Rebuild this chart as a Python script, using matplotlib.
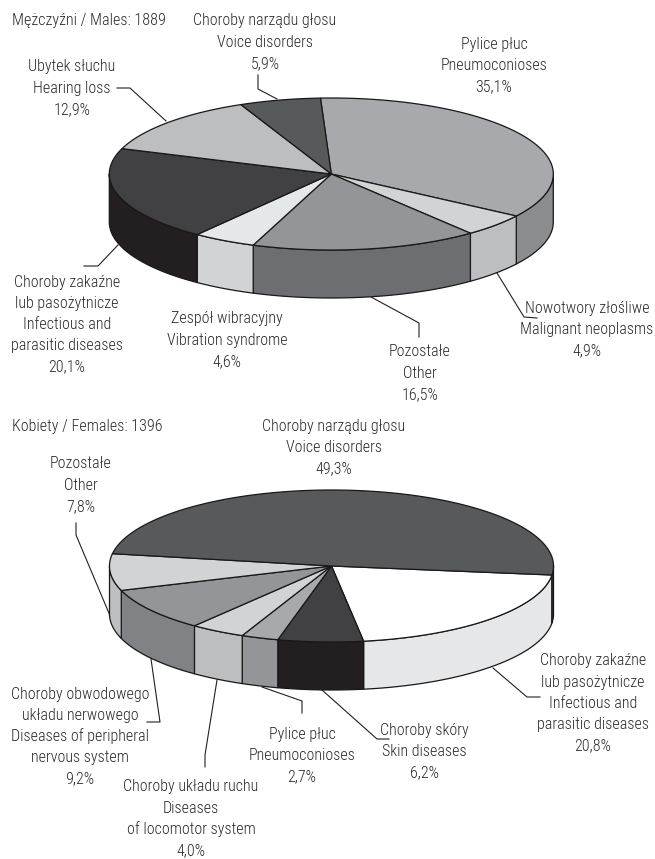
"""Occupational diseases in Poland, two 3D pies"""
import numpy as np
import matplotlib
matplotlib.use("Agg")
import matplotlib.pyplot as plt

plt.rcParams['font.family'] = ['Roboto Condensed', 'Liberation Sans', 'DejaVu Sans']
plt.rcParams['font.weight'] = 300

# slices go clockwise from the start angle
male_title = 'Mężczyźni / Males: 1889'
male_names = [['Pylice płuc', 'Pneumoconioses'],
              ['Nowotwory złośliwe', 'Malignant neoplasms'],
              ['Pozostałe', 'Other'],
              ['Zespół wibracyjny', 'Vibration syndrome'],
              ['Choroby zakaźne', 'lub pasożytnicze', 'Infectious and', 'parasitic diseases'],
              ['Ubytek słuchu', 'Hearing loss'],
              ['Choroby narządu głosu', 'Voice disorders']]
male_values = [35.1, 4.9, 16.5, 4.6, 20.1, 12.9, 5.9]
male_top = ['#a7a9ac', '#d1d3d4', '#939598', '#e6e7e8', '#414042', '#bcbec0', '#58595b']
male_side = ['#8a8c8e', '#bcbec0', '#6d6e71', '#d1d3d4', '#231f20', '#939598', '#414042']

female_title = 'Kobiety / Females: 1396'
female_names = [['Choroby zakaźne', 'lub pasożytnicze', 'Infectious and', 'parasitic diseases'],
                ['Choroby skóry', 'Skin diseases'],
                ['Pylice płuc', 'Pneumoconioses'],
                ['Choroby układu ruchu', 'Diseases', 'of locomotor system'],
                ['Choroby obwodowego', 'układu nerwowego', 'Diseases of peripheral', 'nervous system'],
                ['Pozostałe', 'Other'],
                ['Choroby narządu głosu', 'Voice disorders']]
female_values = [20.8, 6.2, 2.7, 4.0, 9.2, 7.8, 49.3]
female_top = ['#ffffff', '#414042', '#a7a9ac', '#d1d3d4', '#939598', '#d1d3d4', '#58595b']
female_side = ['#e6e7e8', '#231f20', '#939598', '#bcbec0', '#808285', '#bcbec0', '#414042']

# label centre x and first line y, in pixels
male_label_pos = [(494, 44), (587, 308), (420, 352), (227, 319), (67, 282), (72, 67), (265, 21)]
female_label_pos = [(593, 661), (424, 730), (302, 734), (191, 787), (80, 694), (81, 464), (334, 426)]

male_leaders = [[(497, 273), (524, 317), (537, 318)],
                [(371, 297), (419, 323), (419, 337)],
                [(118, 245), (98, 266), (84, 266)],
                [(117, 88), (130, 88), (166, 121)],
                [(258, 75), (258, 89), (277, 99)]]
female_leaders = [[(493, 668), (527, 697), (540, 697)],
                  [(322, 690), (377, 739), (389, 739)],
                  [(262, 687), (302, 701), (302, 713)],
                  [(217, 680), (205, 755), (205, 767)],
                  [(151, 659), (160, 722), (147, 722)],
                  [(76, 523), (76, 535), (111, 618)]]

RX, RY, DEPTH = 222, 76, 48
LINE_H = 21.2
TEXT_COLOR = '#2b2a2b'
FONT_SIZE = 11.5


def arc(cx, cy, t0, t1):
    t = np.radians(np.linspace(t0, t1, max(2, int(abs(t1 - t0)) + 2)))
    return cx + RX * np.cos(t), cy - RY * np.sin(t)


def draw_pie(ax, cx, cy, start, values, top, side):
    angles = start - np.cumsum([0] + values) * 3.6
    for i in range(len(values)):
        t0, t1 = angles[i], angles[i + 1]
        # side wall, only the front half of the rim can be seen
        for shift in (0, -360):
            a, b = min(t0 - shift, 0), max(t1 - shift, -180)
            if a > b:
                x, y = arc(cx, cy, a, b)
                ax.fill(np.r_[x, x[::-1]], np.r_[y, y[::-1] + DEPTH],
                        facecolor=side[i], edgecolor='#1a1718', lw=0.9, joinstyle='round')
    for i in range(len(values)):
        x, y = arc(cx, cy, angles[i], angles[i + 1])
        ax.fill(np.r_[cx, x], np.r_[cy, y], facecolor=top[i], edgecolor='#1a1718',
                lw=0.9, joinstyle='round')


def draw_labels(ax, names, values, positions):
    for name, value, (x, y) in zip(names, values, positions):
        percent = f'{value:.1f}'.replace('.', ',') + '%'
        for n, line in enumerate(name + [percent]):
            ax.text(x, y + n * LINE_H, line, ha='center', va='center',
                    fontsize=FONT_SIZE, color=TEXT_COLOR)


fig = plt.figure(figsize=(6.55, 8.59), dpi=100)
ax = fig.add_axes([0, 0, 1, 1])
ax.set_xlim(0, 655)
ax.set_ylim(859, 0)
ax.axis('off')

for leaders in (male_leaders, female_leaders):
    for points in leaders:
        ax.plot(*zip(*points), color='#231f20', lw=0.8, zorder=1)

draw_pie(ax, 331.3, 174, 92.8, male_values, male_top, male_side)
draw_pie(ax, 331.5, 566, -6.8, female_values, female_top, female_side)

draw_labels(ax, male_names, male_values, male_label_pos)
draw_labels(ax, female_names, female_values, female_label_pos)

ax.text(12, 21, male_title, va='center', fontsize=FONT_SIZE, color=TEXT_COLOR)
ax.text(12, 426, female_title, va='center', fontsize=FONT_SIZE, color=TEXT_COLOR)

fig.savefig('out.png', dpi=100)
